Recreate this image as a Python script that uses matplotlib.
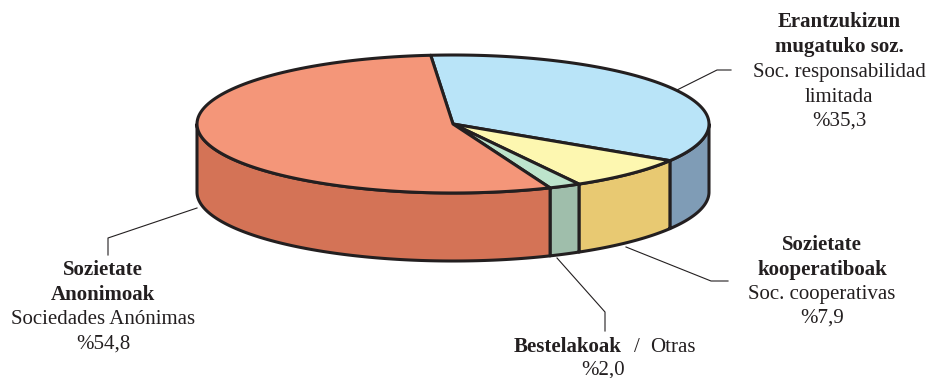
"""
Empresas por forma jurídica — tarta 3D (euskera / castellano)
"""
import numpy as np
import matplotlib
matplotlib.use('Agg')
import matplotlib.pyplot as plt
from matplotlib.patches import Polygon

plt.rcParams['font.family'] = ['Liberation Serif', 'DejaVu Serif']

# datos (%), en orden horario desde arriba
valores = [35.3, 7.9, 2.0, 54.8]
nombres_eu = [["Erantzukizun", "mugatuko soz."], ["Sozietate", "kooperatiboak"],
              ["Bestelakoak"], ["Sozietate", "Anonimoak"]]
nombres_es = [["Soc. responsabilidad", "limitada"], ["Soc. cooperativas"],
              ["Otras"], ["Sociedades Anónimas"]]
color_sup = ['#b9e4f8', '#fdf7b0', '#bde4cc', '#f49679']
color_lat = ['#7f9cb6', '#e8c972', '#9fbeab', '#d47356']

# geometría en píxeles
CX, CY = 453, 124
A, B = 256, 69
PROF = 68
INICIO = 95.0   # grados
NEGRO = '#231f20'


def arco(t0, t1, dy=0, n=120):
    ts = np.linspace(t0, t1, n)
    r = np.radians(ts)
    return np.column_stack([CX + A * np.cos(r), CY - B * np.sin(r) + dy])


def pct(v):
    return f"%{v:.1f}".replace('.', ',')


fig = plt.figure(figsize=(9.31, 3.78), dpi=100)
ax = fig.add_axes([0, 0, 1, 1])
ax.set_xlim(0, 931)
ax.set_ylim(378, 0)
ax.axis('off')

# ángulos de cada porción (sentido horario)
limites = []
t = INICIO
for v in valores:
    t_fin = t - v / sum(valores) * 360
    limites.append((t, t_fin))
    t = t_fin

# paredes laterales (solo la mitad delantera, -180..0)
for (t0, t1), c in zip(limites, color_lat):
    for base in (0, -360):
        a0 = min(t0 + base, 0)
        a1 = max(t1 + base, -180)
        if a0 <= a1:
            continue
        sup = arco(a0, a1)
        inf = arco(a1, a0, PROF)
        ax.add_patch(Polygon(np.vstack([sup, inf]), closed=True, fc=c,
                             ec=NEGRO, lw=2.2, joinstyle='round', zorder=2))

# tapa superior
for (t0, t1), c in zip(limites, color_sup):
    pts = np.vstack([[CX, CY], arco(t0, t1)])
    ax.add_patch(Polygon(pts, closed=True, fc=c, ec=NEGRO, lw=2.2,
                         joinstyle='round', zorder=3))

# líneas guía
guias = [
    [(677, 90), (717, 70), (731, 70)],
    [(626, 247), (711, 281), (728, 281)],
    [(557, 258), (605, 312), (605, 331)],
    [(197, 208), (108, 238), (108, 255)],
]
for g in guias:
    xs, ys = zip(*g)
    ax.plot(xs, ys, color=NEGRO, lw=0.8, zorder=1)

fs = 15
kw = dict(ha='center', va='center', color=NEGRO, fontsize=fs)


def etiqueta(x, ys, i):
    lineas = [(s, 'bold') for s in nombres_eu[i]] + \
             [(s, 'normal') for s in nombres_es[i]] + [(pct(valores[i]), 'normal')]
    for (s, w), y in zip(lineas, ys):
        ax.text(x, y, s, fontweight=w, **kw)


etiqueta(839, [22, 47, 73, 97, 121], 0)
etiqueta(822, [245, 270, 294, 318], 1)
etiqueta(103, [270, 295, 319, 344], 3)

# Bestelakoak / Otras
ax.text(622, 347, nombres_eu[2][0], fontweight='bold', ha='right', va='center',
        color=NEGRO, fontsize=fs)
ax.text(637, 347, "/", ha='center', va='center', color=NEGRO, fontsize=fs)
ax.text(650, 347, nombres_es[2][0], ha='left', va='center', color=NEGRO, fontsize=fs)
ax.text(603, 370, pct(valores[2]), **kw)

fig.savefig("out.png", dpi=100)
